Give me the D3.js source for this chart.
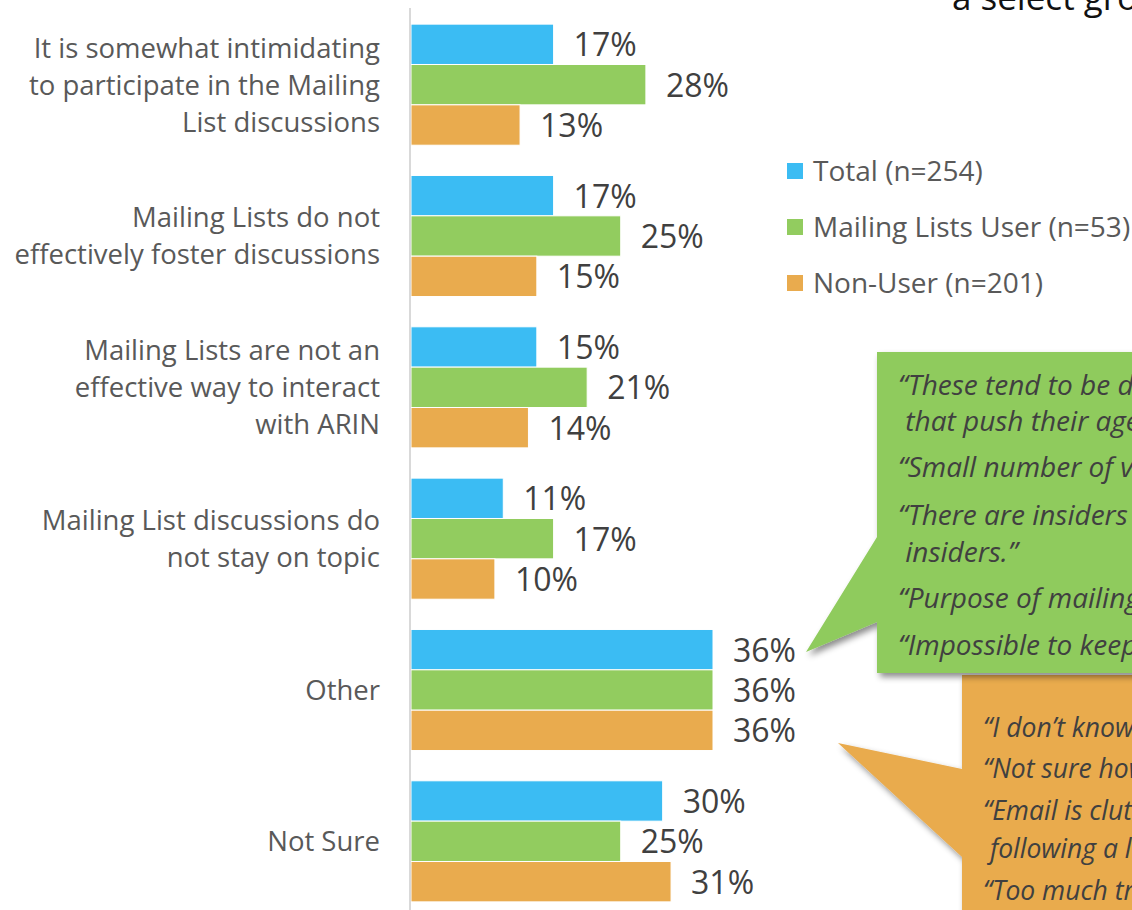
<!DOCTYPE html>
<html lang="en">
<head>
    <meta charset="utf-8" />
    <title>Mailing list perceptions</title>
    <script src="https://d3js.org/d3.v7.min.js"></script>
    <style>
        html, body { margin: 0; padding: 0; background: #fff; overflow: hidden; }
        svg { display: block; font-family: "Open Sans", "DejaVu Sans", sans-serif; }
    </style>
</head>
<body>
    <svg width="1132" height="910"></svg>
    <script>

        // chart data
        let categories = [
            ["It is somewhat intimidating", "to participate in the Mailing", "List discussions"],
            ["Mailing Lists do not", "effectively foster discussions"],
            ["Mailing Lists are not an", "effective way to interact", "with ARIN"],
            ["Mailing List discussions do", "not stay on topic"],
            ["Other"],
            ["Not Sure"]
        ];
        let seriesNames = ["Total (n=254)", "Mailing Lists User (n=53)", "Non-User (n=201)"];
        let totalValues = [17, 17, 15, 11, 36, 30];
        let userValues = [28, 25, 21, 17, 36, 25];
        let nonUserValues = [13, 15, 14, 10, 36, 31];
        let colors = ["#3bbcf3", "#92cc5f", "#e9ab4e"];

        let greenQuotes = [
            "\u201CThese tend to be dominated by a few",
            " that push their agendas.\u201D",
            "\u201CSmall number of vocal participants.\u201D",
            "\u201CThere are insiders and non-",
            " insiders.\u201D",
            "\u201CPurpose of mailing lists is unclear.\u201D",
            "\u201CImpossible to keep up.\u201D"
        ];
        let orangeQuotes = [
            "\u201CI don\u2019t know what they are.\u201D",
            "\u201CNot sure how to join.\u201D",
            "\u201CEmail is cluttered enough without",
            " following a list.\u201D",
            "\u201CToo much traffic.\u201D"
        ];

        let width = 1132, height = 910;
        let svg = d3.select("svg");

        let seriesValues = [totalValues, userValues, nonUserValues];
        let rows = categories.map((c, i) => ({
            label: c,
            values: seriesValues.map((s, j) => ({ key: j, value: s[i] }))
        }));

        let y = d3.scaleBand()
            .domain(d3.range(categories.length))
            .range([9, 917])
            .paddingInner(0.2)
            .paddingOuter(0.1);

        let ySub = d3.scaleBand()
            .domain(d3.range(seriesNames.length))
            .range([0, y.bandwidth()]);

        let x = d3.scaleLinear()
            .domain([0, 36])
            .range([411, 713]);

        // drop shadow for the callouts
        let defs = svg.append("defs");
        defs.append("filter")
            .attr("id", "shadow")
            .attr("x", "-20%").attr("y", "-20%")
            .attr("width", "140%").attr("height", "140%")
            .append("feDropShadow")
            .attr("dx", 3).attr("dy", 4)
            .attr("stdDeviation", 3)
            .attr("flood-color", "#000")
            .attr("flood-opacity", 0.45);

        // title fragment at top (cut by the slide crop)
        svg.append("text")
            .attr("x", 952).attr("y", 10)
            .attr("font-size", 35)
            .attr("fill", "#111")
            .text("a select group of respondents");

        // bars
        let groups = svg.append("g")
            .selectAll("g")
            .data(rows)
            .join("g")
            .attr("transform", (d, i) => "translate(0," + y(i) + ")");

        groups.selectAll("rect")
            .data(d => d.values)
            .join("rect")
            .attr("x", x(0))
            .attr("y", d => ySub(d.key))
            .attr("width", d => x(d.value) - x(0))
            .attr("height", ySub.bandwidth())
            .attr("fill", d => colors[d.key])
            .attr("stroke", "#fff")
            .attr("stroke-width", 1);

        groups.selectAll("text.val")
            .data(d => d.values)
            .join("text")
            .attr("class", "val")
            .attr("x", d => x(d.value) + 20)
            .attr("y", d => ySub(d.key) + ySub.bandwidth() / 2 + 12)
            .attr("font-size", 32)
            .attr("fill", "#404040")
            .text(d => d.value + "%");

        // category labels
        let lineH = 37;
        groups.append("text")
            .attr("text-anchor", "end")
            .attr("font-size", 27.5)
            .attr("fill", "#595959")
            .selectAll("tspan")
            .data(d => d.label.map((t, k) => ({ t: t, k: k, n: d.label.length })))
            .join("tspan")
            .attr("x", 380)
            .attr("y", d => y.bandwidth() / 2 + 10 + (d.k - (d.n - 1) / 2) * lineH)
            .text(d => d.t);

        // vertical axis line
        svg.append("line")
            .attr("x1", 410).attr("x2", 410)
            .attr("y1", 8).attr("y2", height)
            .attr("stroke", "#d9d9d9")
            .attr("stroke-width", 2);

        // legend
        let legend = svg.append("g")
            .selectAll("g")
            .data(seriesNames)
            .join("g")
            .attr("transform", (d, i) => "translate(787," + (171 + i * 56) + ")");

        legend.append("rect")
            .attr("x", 0).attr("y", -8)
            .attr("width", 16).attr("height", 16)
            .attr("fill", (d, i) => colors[i]);

        legend.append("text")
            .attr("x", 26).attr("y", 10)
            .attr("font-size", 28)
            .attr("fill", "#595959")
            .text(d => d);

        // orange callout (behind the green one)
        svg.append("path")
            .attr("d", "M962,675 L1150,675 L1150,930 L962,930 L962,857 L838,743 L962,769 Z")
            .attr("fill", "#e9ab4e")
            .attr("filter", "url(#shadow)");

        svg.append("g")
            .attr("font-size", 26.5)
            .attr("font-style", "italic")
            .attr("fill", "#404040")
            .selectAll("text")
            .data(orangeQuotes)
            .join("text")
            .attr("x", 983)
            .attr("y", (d, i) => [737, 778, 820, 858, 900][i])
            .style("white-space", "pre")
            .text(d => d);

        // green callout
        svg.append("path")
            .attr("d", "M877,352 L1150,352 L1150,673 L877,673 L877,622 L806,652 L877,537 Z")
            .attr("fill", "#8fcb5d")
            .attr("filter", "url(#shadow)");

        svg.append("g")
            .attr("font-size", 28)
            .attr("font-style", "italic")
            .attr("fill", "#404040")
            .selectAll("text")
            .data(greenQuotes)
            .join("text")
            .attr("x", 898)
            .attr("y", (d, i) => [395, 431, 477, 525, 562, 608, 655][i])
            .style("white-space", "pre")
            .text(d => d);

    </script>
</body>
</html>
